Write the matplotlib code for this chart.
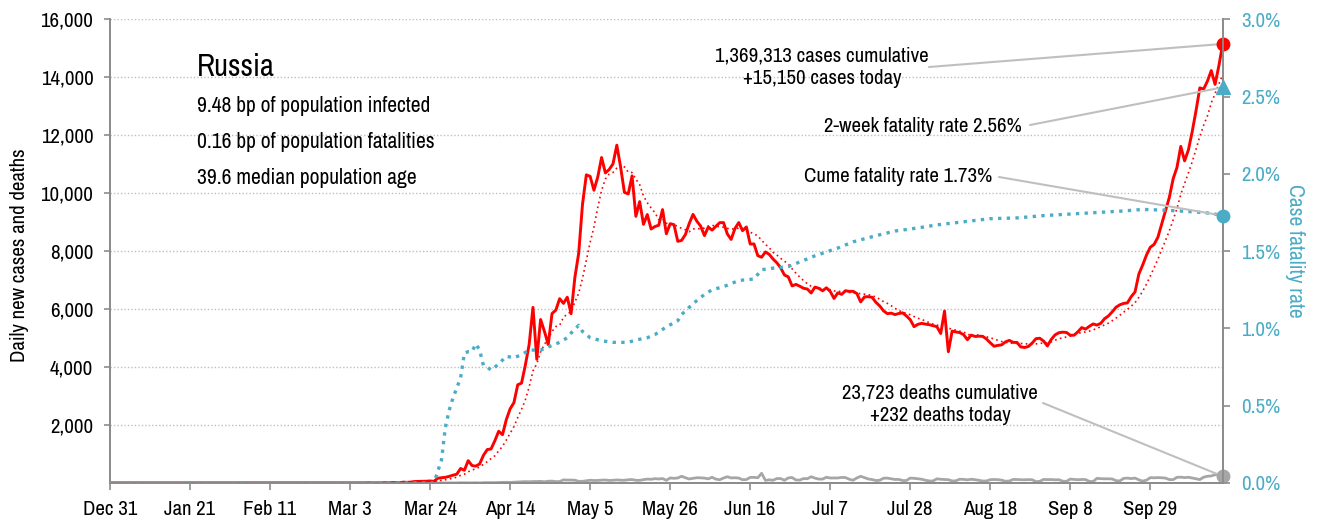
import pandas as pd
import matplotlib.pyplot as plt
from matplotlib.ticker import FuncFormatter

plt.rcParams['font.family'] = ['Archivo Narrow', 'DejaVu Sans']

# Russia, daily reports Dec 31 2019 .. Oct 18 2020
dates = pd.date_range("2019-12-31", "2020-10-18", freq="D")

cases_dec = [0]
cases_jan = [0] * 31
cases_feb = [2] + [0] * 28
cases_mar = [0, 0, 1, 0, 0, 0, 1, 6, 0, 0, 3, 8, 6, 14, 11, 4, 30, 21, 33, 52,
             54, 53, 61, 71, 57, 163, 182, 196, 228, 270, 302]
cases_apr = [501, 440, 771, 601, 582, 658, 954, 1154, 1175, 1459,
             1786, 1667, 2186, 2558, 2774, 3388, 3448, 4070, 4785, 6060,
             4268, 5642, 5236, 4774, 5849, 5966, 6361, 6198, 6411, 5841]
cases_may = [7099, 7933, 9623, 10633, 10581, 10102, 10559, 11231, 10699, 10817,
             11012, 11656, 10899, 10028, 9974, 10598, 9200, 9709, 8926, 9263,
             8764, 8849, 8894, 9434, 8599, 8946, 8915, 8338, 8371, 8572, 8952]
cases_jun = [9268, 9035, 8863, 8536, 8831, 8726, 8855, 8984, 8985, 8595,
             8404, 8779, 8987, 8706, 8835, 8246, 8248, 7843, 7790, 7972,
             7889, 7728, 7600, 7425, 7176, 7113, 6800, 6852, 6791, 6719]
cases_jul = [6693, 6556, 6760, 6718, 6632, 6736, 6611, 6368, 6562, 6509,
             6635, 6611, 6615, 6537, 6248, 6422, 6428, 6406, 6234, 6109,
             5940, 5842, 5862, 5811, 5848, 5871, 5765, 5635, 5395, 5475, 5509]
cases_aug = [5482, 5462, 5427, 5394, 5159, 5934, 4530, 5241, 5212, 5189,
             5118, 4945, 5102, 5057, 5065, 5061, 4969, 4839, 4718, 4748,
             4767, 4870, 4921, 4852, 4852, 4696, 4676, 4711, 4829, 4980, 4995]
cases_sep = [4897, 4729, 4952, 5110, 5185, 5205, 5195, 5099, 5099, 5218,
             5363, 5310, 5406, 5488, 5449, 5509, 5670, 5762, 5905, 6065,
             6148, 6196, 6215, 6431, 6595, 7212, 7523, 7867, 8135, 8232]
cases_oct = [8481, 8945, 9412, 9859, 10499, 10888, 11615, 11115, 11493, 12126,
             12846, 13634, 13592, 13868, 14231, 13754, 14400, 15150]

deaths_dec = [0]
deaths_jan = [0] * 31
deaths_feb = [0] * 29
deaths_mar = [0] * 19 + [1, 0, 0, 0, 0, 0, 1, 1, 0, 2, 1, 2]
deaths_apr = [8, 7, 6, 4, 9, 2, 11, 13, 13, 12, 18, 22, 24, 18, 28, 34, 41, 48, 43, 51,
              51, 57, 42, 60, 66, 47, 50, 108, 101, 101]
deaths_may = [96, 57, 58, 76, 95, 86, 88, 98, 104, 88, 94, 107, 96, 93, 113, 119, 94, 91,
              115, 135, 127, 150, 139, 153, 92, 174, 161, 174, 232, 181, 138]
deaths_jun = [162, 182, 178, 169, 144, 197, 134, 112, 171, 216, 174, 181, 171, 113, 119,
              193, 194, 182, 335, 90, 109, 95, 153, 154, 92, 176, 188, 104, 101, 154]
deaths_jul = [147, 216, 168, 135, 134, 198, 173, 175, 174, 192, 188, 130, 95, 175, 232,
              186, 138, 119, 85, 95, 165, 169, 147, 122, 124, 85, 85, 169, 161, 147, 129]
deaths_aug = [95, 70, 70, 144, 129, 119, 114, 70, 77, 130, 124, 109, 129, 114, 94, 68,
              70, 114, 121, 115, 98, 60, 68, 122, 121, 113, 110, 117, 112, 48, 57]
deaths_sep = [123, 117, 119, 110, 114, 63, 56, 134, 122, 112, 122, 119, 55, 50, 160,
              150, 144, 145, 139, 81, 72, 160, 169, 152, 170, 108, 65, 97, 185, 179]
deaths_oct = [186, 181, 169, 117, 117, 196, 201, 186, 197, 173, 147, 117, 201, 232,
              244, 286, 279, 232]

# cumulative case fatality rate (%)
cfr_dates = ["2019-12-31", "2020-03-25", "2020-03-27", "2020-03-28", "2020-03-29",
             "2020-03-30", "2020-04-01", "2020-04-02", "2020-04-03", "2020-04-04",
             "2020-04-05", "2020-04-06", "2020-04-07", "2020-04-08", "2020-04-09",
             "2020-04-11", "2020-04-13", "2020-04-15", "2020-04-17", "2020-04-19",
             "2020-04-22", "2020-04-25", "2020-04-27", "2020-04-29", "2020-04-30",
             "2020-05-02", "2020-05-03", "2020-05-05", "2020-05-08", "2020-05-11",
             "2020-05-15", "2020-05-17", "2020-05-20", "2020-05-22", "2020-05-25",
             "2020-05-28", "2020-05-29", "2020-06-01", "2020-06-04", "2020-06-06",
             "2020-06-09", "2020-06-12", "2020-06-13", "2020-06-17", "2020-06-19",
             "2020-06-22", "2020-06-26", "2020-06-29", "2020-07-03", "2020-07-09",
             "2020-07-13", "2020-07-19", "2020-07-24", "2020-07-30", "2020-08-04",
             "2020-08-11", "2020-08-18", "2020-08-25", "2020-09-01", "2020-09-08",
             "2020-09-15", "2020-09-22", "2020-09-27", "2020-10-03", "2020-10-10",
             "2020-10-15", "2020-10-18"]
cfr_pct = [0.0, 0.0, 0.15, 0.36, 0.47,
           0.55, 0.68, 0.84, 0.85, 0.85,
           0.90, 0.86, 0.76, 0.75, 0.73,
           0.77, 0.82, 0.81, 0.83, 0.86,
           0.86, 0.89, 0.91, 0.94, 0.97,
           1.02, 0.98, 0.94, 0.92, 0.91,
           0.91, 0.925, 0.94, 0.96, 1.01,
           1.05, 1.09, 1.16, 1.22, 1.25,
           1.27, 1.30, 1.31, 1.32, 1.38,
           1.39, 1.40, 1.43, 1.47, 1.52,
           1.56, 1.60, 1.63, 1.65, 1.67,
           1.69, 1.71, 1.715, 1.73, 1.74,
           1.75, 1.76, 1.77, 1.765, 1.755,
           1.745, 1.73]

two_week_cfr = 2.56
cume_cfr = 1.73
total_cases = 1369313
total_deaths = 23723

cases = (cases_dec + cases_jan + cases_feb + cases_mar + cases_apr + cases_may
         + cases_jun + cases_jul + cases_aug + cases_sep + cases_oct)
deaths = (deaths_dec + deaths_jan + deaths_feb + deaths_mar + deaths_apr + deaths_may
          + deaths_jun + deaths_jul + deaths_aug + deaths_sep + deaths_oct)

df = pd.DataFrame({"cases": cases, "deaths": deaths}, index=dates)
df["avg7"] = df["cases"].rolling(7, min_periods=1).mean()
cfr = pd.Series(cfr_pct, index=pd.to_datetime(cfr_dates))

RED = "#ff0000"
TEAL = "#4bacc6"
GRAY = "#a6a6a6"
AXIS = "#8c8c8c"
W, H = 1319, 522


def px(x, y):
    return x / W, 1 - y / H


fig = plt.figure(figsize=(W / 100, H / 100), dpi=100)
ax = fig.add_axes([110 / W, 39 / H, 1112.7 / W, 463.7 / H])
ax2 = ax.twinx()

ax.plot(df.index, df["deaths"], color=GRAY, lw=2.0, zorder=2)
ax.plot(df.index, df["avg7"], color=RED, lw=1.2, linestyle=(0, (1, 2)), zorder=3)
ax.plot(df.index, df["cases"], color=RED, lw=2.1, zorder=4)
ax2.plot(cfr.index, cfr.values, color=TEAL, lw=2.4, linestyle=(0, (1, 1.6)))

last = dates[-1]
ax.plot(last, cases[-1], "o", color=RED, ms=9, clip_on=False, zorder=6)
ax.plot(last, deaths[-1], "o", color=GRAY, ms=9, clip_on=False, zorder=6)
ax2.plot(last, two_week_cfr, "^", color=TEAL, ms=10, clip_on=False, zorder=6)
ax2.plot(last, cume_cfr, "o", color=TEAL, ms=9, clip_on=False, zorder=6)

ax.set_xlim(dates[0], dates[-1])
ax.set_ylim(0, 16000)
ax2.set_ylim(0, 3.0)

ax.set_yticks(range(2000, 16001, 2000))
ax.yaxis.set_major_formatter(FuncFormatter(lambda v, p: f"{v:,.0f}"))
ax2.set_yticks([0, 0.5, 1.0, 1.5, 2.0, 2.5, 3.0])
ax2.yaxis.set_major_formatter(FuncFormatter(lambda v, p: f"{v:.1f}%"))

xt = dates[::21]
ax.set_xticks(xt)
ax.set_xticklabels([f"{d:%b} {d.day}" for d in xt])

ax.yaxis.grid(True, linestyle=(0, (1, 1.5)), color="#bfbfbf", lw=1.0)
ax.set_axisbelow(True)

for a in (ax, ax2):
    a.spines["top"].set_visible(False)
    for s in ("left", "right", "bottom"):
        a.spines[s].set_color(AXIS)
        a.spines[s].set_linewidth(1.3)

ax.tick_params(axis="y", length=4, width=1.2, color=AXIS, pad=8, labelsize=15)
ax.tick_params(axis="x", length=5, width=1.2, color=AXIS, pad=7, labelsize=15)
ax2.tick_params(axis="y", length=5, width=1.2, color=AXIS, pad=8, labelsize=15,
                labelcolor=TEAL)

fig.text(*px(20, 255), "Daily new cases and deaths", rotation=90, fontsize=15,
         ha="center", va="center")
fig.text(*px(1295, 251), "Case fatality rate", rotation=270, fontsize=15.5,
         color=TEAL, ha="center", va="center")

fig.text(*px(197, 76), "Russia", fontsize=22, va="baseline")
fig.text(*px(197, 112), "9.48 bp of population infected", fontsize=15.5, va="baseline")
fig.text(*px(197, 148), "0.16 bp of population fatalities", fontsize=15.5, va="baseline")
fig.text(*px(197, 184), "39.6 median population age", fontsize=15.5, va="baseline")

fig.text(*px(822, 67), f"{total_cases:,} cases cumulative\n+{cases[-1]:,} cases today",
         fontsize=15, ha="center", va="center", linespacing=1.25)
fig.text(*px(1022, 126), f"2-week fatality rate {two_week_cfr:.2f}%", fontsize=15,
         ha="right", va="center")
fig.text(*px(992, 177), f"Cume fatality rate {cume_cfr:.2f}%", fontsize=15,
         ha="right", va="center")
fig.text(*px(940, 404), f"{total_deaths:,} deaths cumulative\n+{deaths[-1]:,} deaths today",
         fontsize=15, ha="center", va="center", linespacing=1.25)

lead = dict(arrowstyle="-", color="#bfbfbf", lw=1.5, shrinkA=0, shrinkB=0)
ax.annotate("", xy=(last, cases[-1]), xytext=(929, H - 67),
            textcoords="figure pixels", arrowprops=lead, annotation_clip=False)
ax2.annotate("", xy=(last, two_week_cfr), xytext=(1030, H - 125),
             textcoords="figure pixels", arrowprops=lead, annotation_clip=False)
ax2.annotate("", xy=(last, cume_cfr), xytext=(999, H - 177),
             textcoords="figure pixels", arrowprops=lead, annotation_clip=False)
ax.annotate("", xy=(last, deaths[-1]), xytext=(1043, H - 403),
            textcoords="figure pixels", arrowprops=lead, annotation_clip=False)

fig.savefig("out.png", dpi=100)
